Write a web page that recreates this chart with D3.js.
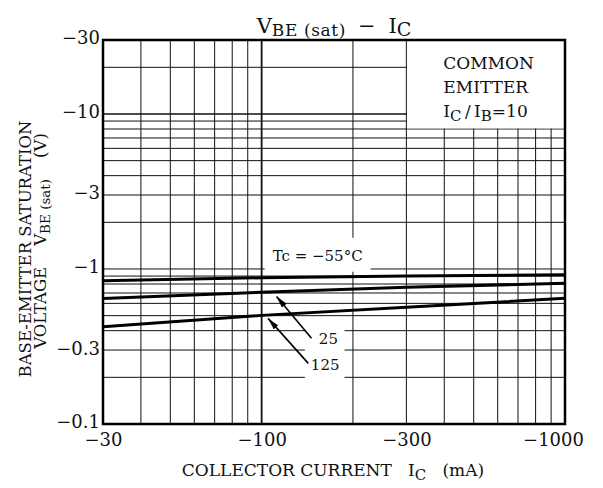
<!DOCTYPE html>
<html>
<head>
<meta charset="utf-8">
<script src="https://cdn.jsdelivr.net/npm/d3@7"></script>
<style>
  html, body { margin: 0; padding: 0; background: #fff; }
  svg { display: block; font-family: "DejaVu Serif", serif; }
</style>
</head>
<body>
<svg id="chart"></svg>
<script>
// Values (IC in mA, VBE(sat) in V)
const icTicks = [-30, -100, -300, -1000];
const vTicks = [-30, -10, -3, -1, -0.3, -0.1];
const xGrid = [-30, -40, -50, -60, -70, -80, -90, -100, -200, -300, -400, -500, -600, -700, -800, -900, -1000];
const yGrid = [-0.1, -0.2, -0.3, -0.4, -0.5, -0.6, -0.7, -0.8, -0.9, -1, -2, -3, -4, -5, -6, -7, -8, -9, -10, -20, -30];
const ic = [-30, -100, -300, -1000];
const vMinus55 = [-0.84, -0.878, -0.90, -0.918];
const v25 = [-0.645, -0.707, -0.761, -0.81];
const v125 = [-0.424, -0.502, -0.566, -0.647];

const width = 603;
const height = 488;
const margin = { top: 40, right: 38, bottom: 64, left: 103 };

const svg = d3.select("#chart")
    .attr("width", width)
    .attr("height", height)
    .attr("viewBox", [0, 0, width, height]);

const x = d3.scaleLog()
    .domain([-30, -1000])
    .range([margin.left, width - margin.right]);

const y = d3.scaleLog()
    .domain([-0.1, -30])
    .range([height - margin.bottom, margin.top]);

svg.append("rect")
    .attr("width", width)
    .attr("height", height)
    .attr("fill", "white");

// grid
const grid = svg.append("g").attr("stroke", "#111");

grid.selectAll("line.v")
    .data(xGrid)
    .join("line")
    .attr("class", "v")
    .attr("x1", d => x(d)).attr("x2", d => x(d))
    .attr("y1", y(-0.1)).attr("y2", y(-30))
    .attr("stroke-width", d => d === -100 ? 1.8 : 1);

grid.selectAll("line.h")
    .data(yGrid)
    .join("line")
    .attr("class", "h")
    .attr("x1", x(-30)).attr("x2", x(-1000))
    .attr("y1", d => y(d)).attr("y2", d => y(d))
    .attr("stroke-width", d => d === -10 ? 1.6 : 1);

// white box for the conditions text (grid is blanked there)
svg.append("rect")
    .attr("x", x(-300) + 0.6)
    .attr("y", y(-30))
    .attr("width", x(-1000) - x(-300))
    .attr("height", y(-8) - y(-30) - 0.6)
    .attr("fill", "white");

const condX = x(-300) + 37;
const cond = svg.append("text")
    .attr("font-size", 17)
    .attr("fill", "#111");
cond.append("tspan").attr("x", condX).attr("y", 69).text("COMMON");
cond.append("tspan").attr("x", condX).attr("y", 93).text("EMITTER");
const ratio = svg.append("text").attr("font-size", 17).attr("fill", "#111")
    .attr("x", condX).attr("y", 117);
ratio.append("tspan").text("I");
ratio.append("tspan").attr("font-size", 15).attr("dy", 3.5).text("C");
ratio.append("tspan").attr("dy", -3.5).text("\u2009/\u2009I");
ratio.append("tspan").attr("font-size", 15).attr("dy", 3.5).text("B");
ratio.append("tspan").attr("dy", -3.5).text("=10");

// curve labels with white backing
function backed(node, pad) {
    const b = node.node().getBBox();
    svg.insert("rect", "g.curves")
        .attr("x", b.x - pad[3])
        .attr("y", b.y - pad[0])
        .attr("width", b.width + pad[1] + pad[3])
        .attr("height", b.height + pad[0] + pad[2])
        .attr("fill", "white");
}

const curves = svg.append("g").attr("class", "curves");

const tcLabel = svg.append("text")
    .attr("x", x(-153)).attr("y", y(-1.13))
    .attr("text-anchor", "middle")
    .attr("font-size", 15)
    .attr("fill", "#111")
    .text("Tc = −55°C");
backed(tcLabel, [9, 8, 7, 8]);

const lblGroup = svg.append("g").attr("font-size", 15).attr("fill", "#111").attr("text-anchor", "middle");
lblGroup.append("text").attr("x", x(-166)).attr("y", y(-0.328)).text("25");
lblGroup.append("text").attr("x", x(-162)).attr("y", y(-0.223)).text("125");
backed(lblGroup, [6, 5, 5, 6]);

// curves
const line = d3.line()
    .x(d => x(d[0]))
    .y(d => y(d[1]));

svg.append("clipPath").attr("id", "plot")
    .append("rect")
    .attr("x", x(-30)).attr("y", y(-30))
    .attr("width", x(-1000) - x(-30))
    .attr("height", y(-0.1) - y(-30));

curves.attr("clip-path", "url(#plot)")
    .selectAll("path")
    .data([vMinus55, v25, v125])
    .join("path")
    .attr("d", vs => line(d3.zip(ic, vs)))
    .attr("fill", "none")
    .attr("stroke", "#000")
    .attr("stroke-width", 3);

// arrows
svg.append("defs").append("marker")
    .attr("id", "head")
    .attr("viewBox", "0 0 12 6")
    .attr("refX", 12).attr("refY", 3)
    .attr("markerWidth", 12).attr("markerHeight", 6)
    .attr("markerUnits", "userSpaceOnUse")
    .attr("orient", "auto")
    .append("path")
    .attr("d", "M0,0L12,3L0,6Z")
    .attr("fill", "#000");

const arrows = [
    { from: [-146, -0.357], to: [-112, -0.665] },
    { from: [-142.5, -0.246], to: [-105, -0.48] }
];

svg.append("g")
    .selectAll("line")
    .data(arrows)
    .join("line")
    .attr("x1", d => x(d.from[0])).attr("y1", d => y(d.from[1]))
    .attr("x2", d => x(d.to[0])).attr("y2", d => y(d.to[1]))
    .attr("stroke", "#000")
    .attr("stroke-width", 1.6)
    .attr("marker-end", "url(#head)");

// frame
svg.append("rect")
    .attr("x", x(-30)).attr("y", y(-30))
    .attr("width", x(-1000) - x(-30))
    .attr("height", y(-0.1) - y(-30))
    .attr("fill", "none")
    .attr("stroke", "#000")
    .attr("stroke-width", 2.5);

// axes (labels only)
const fmt = d => "−" + Math.abs(d);

const yAxis = svg.append("g")
    .attr("transform", `translate(${margin.left},0)`)
    .call(d3.axisLeft(y).tickValues(vTicks).tickFormat(fmt).tickSize(0).tickPadding(3));
yAxis.select(".domain").remove();
yAxis.selectAll("text")
    .attr("font-family", "DejaVu Serif")
    .attr("font-size", 18)
    .attr("fill", "#111")
    .attr("dy", "0.22em");

const xAxis = svg.append("g")
    .attr("transform", `translate(0,${height - margin.bottom})`)
    .call(d3.axisBottom(x).tickValues(icTicks).tickFormat(fmt).tickSize(0).tickPadding(9));
xAxis.select(".domain").remove();
xAxis.selectAll("text")
    .attr("font-family", "DejaVu Serif")
    .attr("font-size", 18)
    .attr("fill", "#111")
    .attr("dx", d => d === -1000 ? -12 : 0);

// title
const title = svg.append("text")
    .attr("x", (x(-30) + x(-1000)) / 2)
    .attr("y", 33)
    .attr("text-anchor", "middle")
    .attr("font-size", 21)
    .attr("fill", "#111");
title.append("tspan").text("V");
title.append("tspan").attr("font-size", 17).attr("dy", 3).attr("letter-spacing", 0.6).text("BE (sat)");
title.append("tspan").attr("dy", -3).attr("dx", 12).text("−");
title.append("tspan").attr("dx", 13).text("I");
title.append("tspan").attr("font-size", 19).attr("dy", 3).text("C");

// x axis title
const xt = svg.append("text")
    .attr("x", 333)
    .attr("y", 476)
    .attr("text-anchor", "middle")
    .attr("font-size", 17)
    .attr("fill", "#111")
    .attr("xml:space", "preserve");
xt.append("tspan").text("COLLECTOR CURRENT   I");
xt.append("tspan").attr("font-size", 15).attr("dy", 4).text("C");
xt.append("tspan").attr("dy", -4).text("   (mA)");

// y axis title
const yt = svg.append("g")
    .attr("transform", `translate(0,${(y(-30) + y(-0.1)) / 2}) rotate(-90)`)
    .attr("text-anchor", "middle")
    .attr("font-size", 16.5)
    .attr("fill", "#111");
yt.append("text")
    .attr("x", -17).attr("y", 30.5)
    .text("BASE-EMITTER SATURATION");
const yt2 = yt.append("text")
    .attr("x", -9).attr("y", 45.5)
    .attr("xml:space", "preserve");
yt2.append("tspan").text("VOLTAGE    V");
yt2.append("tspan").attr("font-size", 13.5).attr("dy", 4).text("BE (sat)");
yt2.append("tspan").attr("dy", -4).text("    (V)");
</script>
</body>
</html>
